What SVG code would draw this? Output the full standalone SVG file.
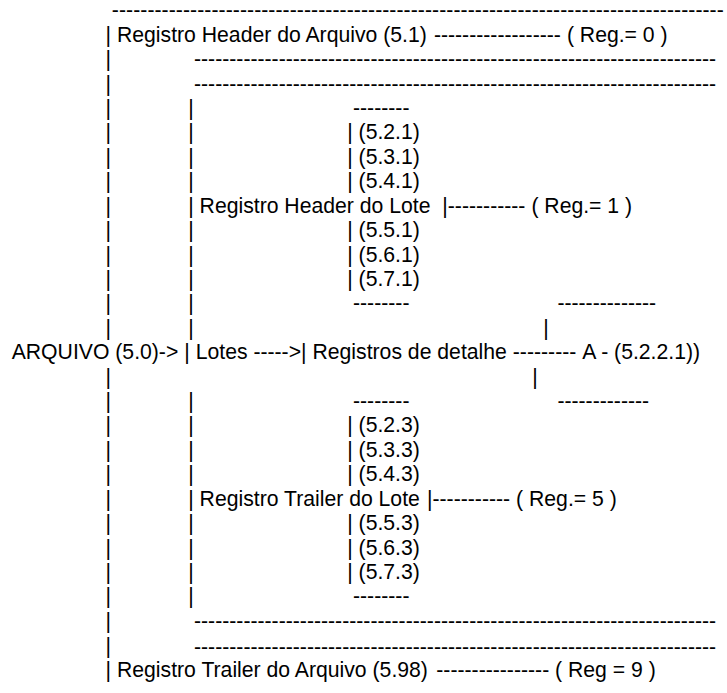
<svg xmlns="http://www.w3.org/2000/svg" width="727" height="693" viewBox="0 0 727 693">
  <style>
    .t { font-family: "Liberation Sans", Arial, sans-serif; font-size: 21.2px; fill: #000; white-space: pre; }
  </style>
  <rect width="727" height="693" fill="#fff"/>

  <!-- layer wrapper keeps glyph edges in grayscale -->
  <g opacity="0.999">

  <!-- Connectors: pipe columns, rules and dash links -->
  <g id="connectors">
    <!-- top and separator rules -->
    <text class="t" x="111.8" y="17.3" textLength="612" lengthAdjust="spacing">--------------------------------------------------------------------------------------</text>
    <text class="t" x="194" y="66.4">--------------------------------------------------------------------------</text>
    <text class="t" x="194" y="90.8">--------------------------------------------------------------------------</text>
    <text class="t" x="194" y="628.3">--------------------------------------------------------------------------</text>
    <text class="t" x="194" y="653.6">--------------------------------------------------------------------------</text>

    <!-- outer column -->
    <text class="t">
      <tspan x="105.6" y="41.7">|</tspan><tspan x="105.6" y="66.1">|</tspan><tspan x="105.6" y="90.5">|</tspan><tspan x="105.6" y="115.0">|</tspan><tspan x="105.6" y="139.4">|</tspan><tspan x="105.6" y="163.8">|</tspan><tspan x="105.6" y="188.2">|</tspan><tspan x="105.6" y="212.6">|</tspan><tspan x="105.6" y="237.1">|</tspan><tspan x="105.6" y="261.5">|</tspan><tspan x="105.6" y="285.9">|</tspan><tspan x="105.6" y="310.3">|</tspan><tspan x="105.6" y="334.7">|</tspan><tspan x="105.6" y="383.6">|</tspan><tspan x="105.6" y="408.0">|</tspan><tspan x="105.6" y="432.4">|</tspan><tspan x="105.6" y="456.8">|</tspan><tspan x="105.6" y="481.3">|</tspan><tspan x="105.6" y="505.7">|</tspan><tspan x="105.6" y="530.1">|</tspan><tspan x="105.6" y="554.5">|</tspan><tspan x="105.6" y="578.9">|</tspan><tspan x="105.6" y="603.4">|</tspan><tspan x="105.6" y="628.0">|</tspan><tspan x="105.6" y="653.0">|</tspan><tspan x="105.6" y="677.2">|</tspan>
    </text>

    <!-- inner column (lotes) -->
    <text class="t">
      <tspan x="188.2" y="115.0">|</tspan><tspan x="188.2" y="139.4">|</tspan><tspan x="188.2" y="163.8">|</tspan><tspan x="188.2" y="188.2">|</tspan><tspan x="188.2" y="212.6">|</tspan><tspan x="188.2" y="237.1">|</tspan><tspan x="188.2" y="261.5">|</tspan><tspan x="188.2" y="285.9">|</tspan><tspan x="188.2" y="310.3">|</tspan><tspan x="188.2" y="334.7">|</tspan><tspan x="184.3" y="359.2">|</tspan><tspan x="188.2" y="408.0">|</tspan><tspan x="188.2" y="432.4">|</tspan><tspan x="188.2" y="456.8">|</tspan><tspan x="188.2" y="481.3">|</tspan><tspan x="188.2" y="505.7">|</tspan><tspan x="188.2" y="530.1">|</tspan><tspan x="188.2" y="554.5">|</tspan><tspan x="188.2" y="578.9">|</tspan><tspan x="188.2" y="603.4">|</tspan>
    </text>

    <!-- dash links -->
    <text class="t" x="433.9" y="41.7">------------------</text>
    <text class="t" x="442.3" y="212.6">|-----------</text>
    <text class="t" x="253.4" y="359.2">-----&gt;|</text>
    <text class="t" x="512.8" y="359.2">---------</text>
    <text class="t" x="427.0" y="505.7">|-----------</text>
    <text class="t" x="436.3" y="677.2">----------------</text>
  </g>

  <g id="arquivo">
    <text class="t" x="11.7" y="359.2">ARQUIVO (5.0)-&gt;</text>
  </g>

  <g id="header-arquivo">
    <text class="t" x="117.0" y="41.7">Registro Header do Arquivo (5.1)</text>
    <text class="t" x="566.9" y="41.7">( Reg.= 0 )</text>
  </g>

  <g id="lotes">
    <text class="t" x="195.7" y="359.2">Lotes</text>
  </g>

  <g id="header-lote">
    <text class="t" x="353" y="115.0">--------</text>
    <text class="t" x="347.2" y="139.4">| (5.2.1)</text>
    <text class="t" x="347.2" y="163.8">| (5.3.1)</text>
    <text class="t" x="347.2" y="188.2">| (5.4.1)</text>
    <text class="t" x="199.6" y="212.6">Registro Header do Lote</text>
    <text class="t" x="531.4" y="212.6">( Reg.= 1 )</text>
    <text class="t" x="347.2" y="237.1">| (5.5.1)</text>
    <text class="t" x="347.2" y="261.5">| (5.6.1)</text>
    <text class="t" x="347.2" y="285.9">| (5.7.1)</text>
    <text class="t" x="353" y="310.3">--------</text>
  </g>

  <g id="detalhe">
    <text class="t" x="312.5" y="359.2">Registros de detalhe</text>
  </g>

  <g id="segmento-a">
    <text class="t" x="557.4" y="310.3">--------------</text>
    <text class="t" x="543.2" y="334.7">|</text>
    <text class="t" x="582.3" y="359.2">A - (5.2.2.1))</text>
    <text class="t" x="532.2" y="383.6">|</text>
    <text class="t" x="557.4" y="408.0">-------------</text>
  </g>

  <g id="trailer-lote">
    <text class="t" x="353" y="408.0">--------</text>
    <text class="t" x="347.2" y="432.4">| (5.2.3)</text>
    <text class="t" x="347.2" y="456.8">| (5.3.3)</text>
    <text class="t" x="347.2" y="481.3">| (5.4.3)</text>
    <text class="t" x="199.6" y="505.7">Registro Trailer do Lote</text>
    <text class="t" x="516.1" y="505.7">( Reg.= 5 )</text>
    <text class="t" x="347.2" y="530.1">| (5.5.3)</text>
    <text class="t" x="347.2" y="554.5">| (5.6.3)</text>
    <text class="t" x="347.2" y="578.9">| (5.7.3)</text>
    <text class="t" x="353" y="603.4">--------</text>
  </g>

  <g id="trailer-arquivo">
    <text class="t" x="117.0" y="677.2">Registro Trailer do Arquivo (5.98)</text>
    <text class="t" x="555.1" y="677.2">( Reg = 9 )</text>
  </g>

  </g>
</svg>
